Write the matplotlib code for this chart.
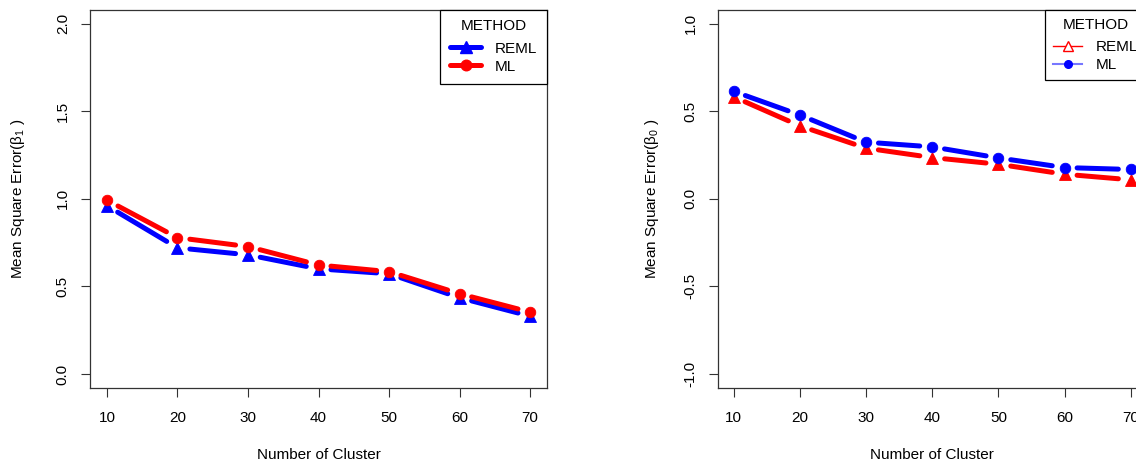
import numpy as np
import matplotlib
matplotlib.use("Agg")
import matplotlib.pyplot as plt
from matplotlib.lines import Line2D

plt.rcParams['font.family'] = ['Liberation Sans', 'DejaVu Sans']
plt.rcParams['mathtext.fontset'] = 'custom'
plt.rcParams['mathtext.rm'] = 'Liberation Sans'

# -------------------------
# dados
# -------------------------
clusters = [10, 20, 30, 40, 50, 60, 70]

# MSE de beta1
b1_reml = [0.96, 0.72, 0.68, 0.60, 0.572, 0.435, 0.33]
b1_ml = [0.992, 0.778, 0.727, 0.622, 0.584, 0.458, 0.353]

# MSE de beta0
b0_reml = [0.582, 0.416, 0.289, 0.235, 0.197, 0.14, 0.108]
b0_ml = [0.613, 0.478, 0.323, 0.296, 0.233, 0.178, 0.167]

methods = ["REML", "ML"]

W, H = 1136, 463
fig = plt.figure(figsize=(W / 100, H / 100), dpi=100)

ax1 = fig.add_axes([90 / W, (H - 388) / H, 457 / W, 378.5 / H])
ax2 = fig.add_axes([717.7 / W, (H - 388) / H, 429 / W, 378.5 / H])

ax1.set_xlim(7.6, 72.4)
ax1.set_ylim(-0.08, 2.08)
ax2.set_xlim(7.6, 72.4)
ax2.set_ylim(-1.08, 1.08)


def linha_b(ax, x, y, cor, marker, ms, lw=3.6, gap=12.5, zorder=3):
    """linha com pontos e espaço em volta dos pontos (tipo 'b')"""
    pts = ax.transData.transform(np.column_stack([x, y]))
    inv = ax.transData.inverted()
    for p0, p1 in zip(pts[:-1], pts[1:]):
        d = p1 - p0
        L = np.hypot(d[0], d[1])
        if L <= 2 * gap:
            continue
        u = d / L
        seg = inv.transform(np.vstack([p0 + u * gap, p1 - u * gap]))
        ax.plot(seg[:, 0], seg[:, 1], color=cor, lw=lw,
                solid_capstyle='round', zorder=zorder)
    ax.plot(x, y, linestyle='none', marker=marker, ms=ms, color=cor,
            mec=cor, mew=0.6, zorder=zorder)


# painel esquerdo: beta1
linha_b(ax1, clusters, b1_reml, 'blue', '^', 9.0)
linha_b(ax1, clusters, b1_ml, 'red', 'o', 7.6)

h1 = [Line2D([], [], color='blue', lw=3.6, marker='^', ms=9.0, solid_capstyle='round'),
      Line2D([], [], color='red', lw=3.6, marker='o', ms=7.6, solid_capstyle='round')]
leg1 = ax1.legend(h1, methods, title="METHOD", loc='upper right',
                  borderaxespad=0, fancybox=False, framealpha=1,
                  edgecolor='black', fontsize=11, title_fontsize=11,
                  handlelength=2.0, handletextpad=0.9, borderpad=0.65,
                  labelspacing=0.25)
leg1.get_frame().set_linewidth(0.9)

# painel direito: beta0
linha_b(ax2, clusters, b0_reml, 'red', '^', 9.0)
linha_b(ax2, clusters, b0_ml, 'blue', 'o', 7.6)

h2 = [Line2D([], [], color='red', lw=1, marker='^', ms=7, mfc='white', mec='red', mew=1),
      Line2D([], [], color='#7777ff', lw=1.5, marker='o', ms=5.5, mfc='blue', mec='blue')]
leg2 = ax2.legend(h2, methods, title="METHOD", loc='upper right',
                  borderaxespad=0, fancybox=False, framealpha=1,
                  edgecolor='black', fontsize=11, title_fontsize=11,
                  handlelength=1.9, handletextpad=0.9, borderpad=0.55,
                  labelspacing=0.25)
leg2.get_frame().set_linewidth(0.9)

for leg in (leg1, leg2):
    leg._legend_box.sep = 6

for ax, yt, ylab in [(ax1, [0.0, 0.5, 1.0, 1.5, 2.0], 'Mean Square Error(β$_1$ )'),
                     (ax2, [-1.0, -0.5, 0.0, 0.5, 1.0], 'Mean Square Error(β$_0$ )')]:
    ax.set_xticks(clusters)
    ax.set_yticks(yt)
    ax.set_yticklabels([f"{v:.1f}" for v in yt], rotation=90, va='center')
    ax.tick_params(direction='out', length=6.5, width=0.8, labelsize=11,
                   colors='#333333', labelcolor='black')
    ax.tick_params(axis='x', pad=10)
    ax.tick_params(axis='y', pad=8)
    for s in ax.spines.values():
        s.set_linewidth(0.9)
        s.set_color('#333333')
    ax.set_xlabel("Number of Cluster", fontsize=11)
    ax.set_ylabel(ylab, fontsize=11)
    ax.xaxis.label.set_va('center')
    ax.yaxis.label.set_va('center')

ax1.xaxis.set_label_coords(0.5, (388 - 455) / 378.5)
ax1.yaxis.set_label_coords((18 - 90) / 457, 0.5)
ax2.xaxis.set_label_coords(0.5, (388 - 455) / 378.5)
ax2.yaxis.set_label_coords((651.7 - 717.7) / 429, 0.5)

fig.savefig("out.png", dpi=100)
